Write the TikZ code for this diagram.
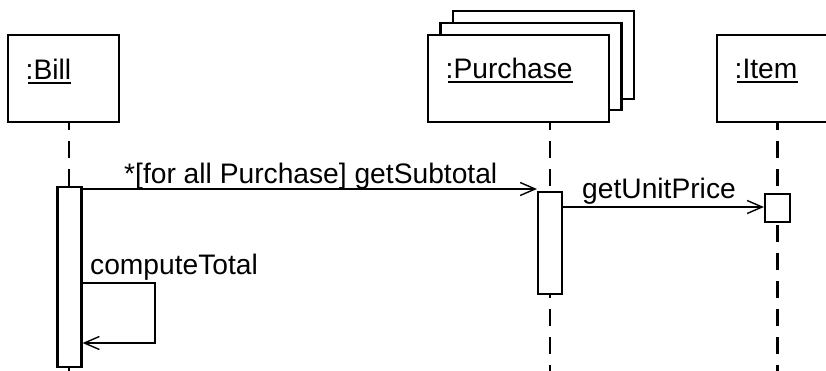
\documentclass[tikz,border=0pt]{standalone}
\usepackage{fontspec}
\setmainfont{Liberation Sans}
\usetikzlibrary{arrows.meta}
\begin{document}
\begin{tikzpicture}[x=1pt,y=-1pt,
  obj/.style={draw, line width=2.3pt, fill=white, inner sep=0pt, rectangle},
  actbox/.style={draw, line width=2.2pt, fill=white, inner sep=0pt, rectangle, minimum width=24pt},
  lbl/.style={inner sep=0pt, anchor=base west, font=\fontsize{28.2}{34}\selectfont},
  lifeline/.style={line width=2.3pt, dash pattern=on 17pt off 11pt, dash phase=10pt},
  msg/.style={line width=1.9pt, -{Straight Barb[length=15pt,width=13pt,line width=1.4pt]}},
  uline/.style={line width=2pt}]
\useasboundingbox (0,0) rectangle (826,371);
\clip (0,0) rectangle (826,371);
\fill[white] (0,0) rectangle (826,371);
% object boxes
\node[obj, minimum width=111pt, minimum height=87pt] (bill) at (63.5,78.5) {};
\node[obj, minimum width=181pt, minimum height=88pt] (pur3) at (543.5,55) {};
\node[obj, minimum width=181pt, minimum height=87pt] (pur2) at (531,66.5) {};
\node[obj, minimum width=181pt, minimum height=87pt] (pur) at (518.5,78.5) {};
\node[obj, minimum width=111pt, minimum height=87pt] (item) at (772.5,78.5) {};
% labels
\node[lbl] (billlbl) at (25.5,80) {:Bill};
\node[lbl] (purlbl) at (445.5,79) {:Purchase};
\node[lbl] (itemlbl) at (734.5,79) {:Item};
\draw[uline] ([xshift=2.5pt,yshift=-3pt]billlbl.base west) -- ([yshift=-3pt]billlbl.base east);
\draw[uline] ([xshift=2.5pt,yshift=-3pt]purlbl.base west) -- ([yshift=-3pt]purlbl.base east);
\draw[uline] ([xshift=2.5pt,yshift=-3pt]itemlbl.base west) -- ([yshift=-3pt]itemlbl.base east);
% lifeline ends
\coordinate (billend) at (69,371);
\coordinate (purend) at (550,371);
\coordinate (itemend) at (777.5,371);
\draw[lifeline] (billend |- bill.south) -- (billend);
\draw[lifeline] (purend |- pur.south) -- (purend);
\draw[lifeline] (itemend |- item.south) -- (itemend);
% activations
\node[actbox, minimum height=180pt] (billact) at (69.5,277) {};
\node[actbox, minimum height=102pt] (puract) at (550,243) {};
\node[actbox, minimum width=25pt, minimum height=28pt] (itemact) at (777.5,208) {};
% messages
\coordinate (m1) at (0,189);
\coordinate (m2) at (0,207);
\coordinate (s1) at (0,283);
\coordinate (s2) at (0,343);
\draw[msg] (billact.east |- m1) -- (puract.west |- m1);
\draw[msg] (puract.east |- m2) -- (itemact.west |- m2);
\draw[msg] (billact.east |- s1) -- ++(72,0) -- ++(0,60) -- (billact.east |- s2);
\node[lbl] (m1lbl) at (124,184) {*[for all Purchase] getSubtotal};
\node[lbl] (m2lbl) at (582,199) {getUnitPrice};
\node[lbl] (s1lbl) at (90,274) {computeTotal};
\end{tikzpicture}
\end{document}
